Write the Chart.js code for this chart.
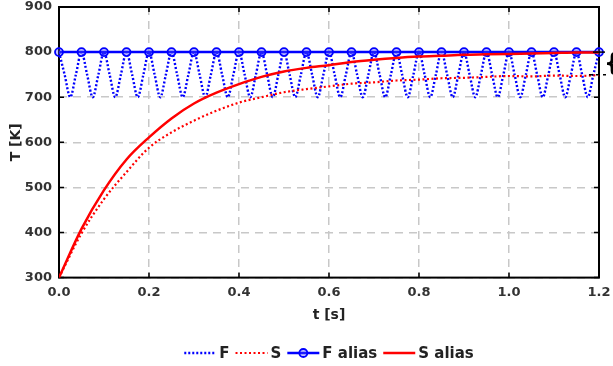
<!DOCTYPE html>
<html>
<head>
<meta charset="utf-8">
<script src="https://cdn.jsdelivr.net/npm/chart.js@4.4.1/dist/chart.umd.min.js"></script>
<style>
  html, body { margin: 0; padding: 0; background: #fff; }
  #wrap { width: 613px; height: 366px; }
</style>
</head>
<body>
<div id="wrap"><canvas id="tempChart"></canvas></div>
<script>
// fast signal, sampled every quarter period (period 0.05 s)
const tF = [0, 0.0125, 0.025, 0.0375, 0.05, 0.0625, 0.075, 0.0875, 0.1, 0.1125, 0.125, 0.1375,
  0.15, 0.1625, 0.175, 0.1875, 0.2, 0.2125, 0.225, 0.2375, 0.25, 0.2625, 0.275, 0.2875,
  0.3, 0.3125, 0.325, 0.3375, 0.35, 0.3625, 0.375, 0.3875, 0.4, 0.4125, 0.425, 0.4375,
  0.45, 0.4625, 0.475, 0.4875, 0.5, 0.5125, 0.525, 0.5375, 0.55, 0.5625, 0.575, 0.5875,
  0.6, 0.6125, 0.625, 0.6375, 0.65, 0.6625, 0.675, 0.6875, 0.7, 0.7125, 0.725, 0.7375,
  0.75, 0.7625, 0.775, 0.7875, 0.8, 0.8125, 0.825, 0.8375, 0.85, 0.8625, 0.875, 0.8875,
  0.9, 0.9125, 0.925, 0.9375, 0.95, 0.9625, 0.975, 0.9875, 1.0, 1.0125, 1.025, 1.0375,
  1.05, 1.0625, 1.075, 1.0875, 1.1, 1.1125, 1.125, 1.1375, 1.15, 1.1625, 1.175, 1.1875, 1.2];
const F = [800, 750, 700, 750, 800, 750, 700, 750, 800, 750, 700, 750,
  800, 750, 700, 750, 800, 750, 700, 750, 800, 750, 700, 750,
  800, 750, 700, 750, 800, 750, 700, 750, 800, 750, 700, 750,
  800, 750, 700, 750, 800, 750, 700, 750, 800, 750, 700, 750,
  800, 750, 700, 750, 800, 750, 700, 750, 800, 750, 700, 750,
  800, 750, 700, 750, 800, 750, 700, 750, 800, 750, 700, 750,
  800, 750, 700, 750, 800, 750, 700, 750, 800, 750, 700, 750,
  800, 750, 700, 750, 800, 750, 700, 750, 800, 750, 700, 750, 800];

// slow signal and the aliased samples, every 0.05 s
const tS = [0, 0.05, 0.1, 0.15, 0.2, 0.25, 0.3, 0.35, 0.4, 0.45, 0.5, 0.55,
  0.6, 0.65, 0.7, 0.75, 0.8, 0.85, 0.9, 0.95, 1.0, 1.05, 1.1, 1.15, 1.2];
const S = [300, 398, 474, 534, 588, 622, 648, 670, 688, 700, 711, 718,
  724, 730, 733, 737, 739, 742, 743, 745, 747, 746, 748, 747, 749];
const Falias = [800, 800, 800, 800, 800, 800, 800, 800, 800, 800, 800, 800,
  800, 800, 800, 800, 800, 800, 800, 800, 800, 800, 800, 800, 800];
const Salias = [300, 408, 494, 562, 611, 653, 686, 710, 729, 745, 757, 765,
  771, 778, 783, 787, 790, 792, 794, 795, 796, 797, 798, 799, 799];

const xTicks = [0, 0.2, 0.4, 0.6, 0.8, 1.0, 1.2];
const yTicks = [300, 400, 500, 600, 700, 800, 900];
const legendNames = ['F', 'S', 'F alias', 'S alias'];

const FONT = "'DejaVu Sans', sans-serif";
const pts = (xs, ys) => xs.map((x, i) => ({ x: x, y: ys[i] }));

// box, inward ticks and the bracket at the right edge
const frame = {
  id: 'frame',
  beforeDatasetsDraw(chart) {
    const { ctx, chartArea: a, scales } = chart;
    ctx.save();
    ctx.strokeStyle = '#000';
    ctx.lineWidth = 1.5;
    ctx.beginPath();
    xTicks.forEach(v => {
      const x = scales.x.getPixelForValue(v);
      ctx.moveTo(x, a.bottom); ctx.lineTo(x, a.bottom - 5);
      ctx.moveTo(x, a.top); ctx.lineTo(x, a.top + 5);
    });
    yTicks.forEach(v => {
      const y = scales.y.getPixelForValue(v);
      ctx.moveTo(a.left, y); ctx.lineTo(a.left + 5, y);
      ctx.moveTo(a.right, y); ctx.lineTo(a.right - 5, y);
    });
    ctx.stroke();
    ctx.lineWidth = 2;
    ctx.strokeRect(a.left, a.top, a.right - a.left, a.bottom - a.top);
    ctx.restore();
  },
  afterDatasetsDraw(chart) {
    const { ctx, chartArea: a, scales } = chart;
    const y1 = scales.y.getPixelForValue(800);
    const y2 = scales.y.getPixelForValue(750);
    ctx.save();
    ctx.strokeStyle = '#000';
    ctx.lineWidth = 1.5;
    ctx.beginPath();
    ctx.moveTo(a.right - 6, y1); ctx.lineTo(a.right + 6, y1);
    ctx.stroke();
    ctx.setLineDash([4, 3]);
    ctx.beginPath();
    ctx.moveTo(a.right - 10, y2); ctx.lineTo(a.right + 7, y2);
    ctx.stroke();
    ctx.restore();
    ctx.save();
    ctx.fillStyle = '#000';
    ctx.font = 'bold 24px ' + FONT;
    ctx.textAlign = 'left';
    ctx.textBaseline = 'middle';
    ctx.fillText('{', a.right + 5, (y1 + y2) / 2 + 1);
    ctx.restore();
  }
};

// legend row under the x axis title
const lineLegend = {
  id: 'lineLegend',
  afterDraw(chart) {
    const { ctx, chartArea: a } = chart;
    const sample = 32, gapText = 3, gapItem = 6;
    ctx.save();
    ctx.font = 'bold 15px ' + FONT;
    const widths = legendNames.map(n => ctx.measureText(n).width);
    let total = 0;
    widths.forEach(w => { total += sample + gapText + w; });
    total += gapItem * (legendNames.length - 1);
    let x = (a.left + a.right) / 2 - total / 2;
    const y = 353;
    chart.data.datasets.forEach((ds, i) => {
      ctx.save();
      ctx.strokeStyle = ds.borderColor;
      ctx.lineWidth = ds.borderWidth;
      ctx.setLineDash(ds.borderDash || []);
      ctx.beginPath();
      ctx.moveTo(x, y); ctx.lineTo(x + sample, y);
      ctx.stroke();
      if (ds.pointRadius > 0) {
        ctx.setLineDash([]);
        ctx.lineWidth = ds.pointBorderWidth;
        ctx.fillStyle = ds.pointBackgroundColor;
        ctx.beginPath();
        ctx.arc(x + sample / 2, y, ds.pointRadius, 0, Math.PI * 2);
        ctx.fill();
        ctx.stroke();
      }
      ctx.restore();
      x += sample + gapText;
      ctx.fillStyle = '#222';
      ctx.textAlign = 'left';
      ctx.textBaseline = 'middle';
      ctx.fillText(legendNames[i], x, y + 1);
      x += widths[i] + gapItem;
    });
    ctx.restore();
  }
};

new Chart(document.getElementById('tempChart'), {
  type: 'line',
  data: {
    datasets: [
      {
        label: legendNames[0], data: pts(tF, F),
        borderColor: '#0000ff', borderWidth: 2.4, borderDash: [2, 2],
        pointRadius: 0, cubicInterpolationMode: 'monotone', order: 4
      },
      {
        label: legendNames[1], data: pts(tS, S),
        borderColor: '#ff0000', borderWidth: 2.2, borderDash: [2, 2.5],
        pointRadius: 0, cubicInterpolationMode: 'monotone', order: 3
      },
      {
        label: legendNames[2], data: pts(tS, Falias),
        borderColor: '#0000ff', borderWidth: 2.5,
        pointRadius: 4, pointBorderWidth: 1.8, pointBorderColor: '#0000ff',
        pointBackgroundColor: 'rgba(80,80,255,0.35)', clip: false, order: 2
      },
      {
        label: legendNames[3], data: pts(tS, Salias),
        borderColor: '#ff0000', borderWidth: 2.5,
        pointRadius: 0, cubicInterpolationMode: 'monotone', order: 1
      }
    ]
  },
  options: {
    responsive: true,
    maintainAspectRatio: false,
    animation: false,
    layout: { padding: { left: 0, right: 14, top: 7, bottom: 42 } },
    plugins: { legend: { display: false }, tooltip: { enabled: false } },
    scales: {
      x: {
        type: 'linear', min: 0, max: 1.2,
        afterBuildTicks: s => { s.ticks = xTicks.map(v => ({ value: v })); },
        afterFit: s => { s.paddingLeft = 0; s.paddingRight = 0; },
        ticks: {
          padding: 7, color: '#333', maxRotation: 0,
          font: { family: FONT, size: 13, weight: 'bold' },
          callback: v => v.toFixed(1)
        },
        grid: { color: '#c8c8c8', lineWidth: 1.5, drawTicks: false },
        border: { display: false, dash: [8, 6] },
        title: {
          display: true, text: 't [s]', color: '#222',
          font: { family: FONT, size: 14, weight: 'bold' },
          padding: { top: 0, bottom: 0 }
        }
      },
      y: {
        min: 300, max: 900,
        afterBuildTicks: s => { s.ticks = yTicks.map(v => ({ value: v })); },
        afterFit: s => { s.width = 59; s.paddingTop = 0; s.paddingBottom = 0; },
        ticks: {
          padding: 7, color: '#333',
          font: { family: FONT, size: 13, weight: 'bold' }
        },
        grid: { color: '#c8c8c8', lineWidth: 1.5, drawTicks: false },
        border: { display: false, dash: [8, 6] },
        title: {
          display: true, text: 'T [K]', color: '#222',
          font: { family: FONT, size: 14, weight: 'bold' },
          padding: { top: 8, bottom: 0 }
        }
      }
    }
  },
  plugins: [frame, lineLegend]
});
</script>
</body>
</html>
